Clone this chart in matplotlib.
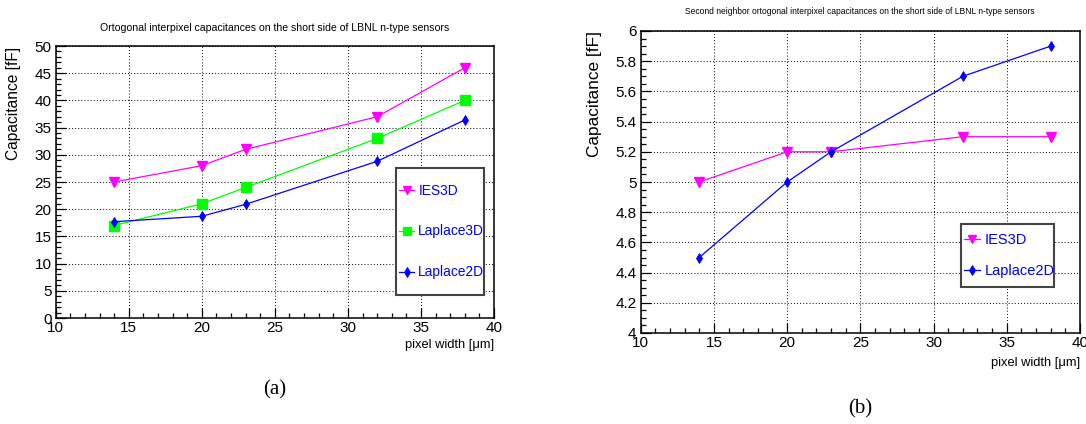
import matplotlib
matplotlib.use("Agg")
import matplotlib.pyplot as plt
from matplotlib.patches import Rectangle
from matplotlib.ticker import MultipleLocator, FuncFormatter

# ---------------- data ----------------
pixel_width = [14, 20, 23, 32, 38]

a_ies3d = [25.0, 28.0, 31.0, 37.0, 46.0]
a_laplace3d = [17.0, 21.0, 24.0, 33.0, 40.0]
a_laplace2d = [17.7, 18.7, 20.9, 28.8, 36.4]

b_ies3d = [5.0, 5.2, 5.2, 5.3, 5.3]
b_laplace2d = [4.5, 5.0, 5.2, 5.7, 5.9]

title_a = "Ortogonal interpixel capacitances on the short side of LBNL n-type sensors"
title_b = "Second neighbor ortogonal interpixel capacitances on the short side of LBNL n-type sensors"
ylabel = "Capacitance [fF]"
xlabel = "pixel width [\u03bcm]"

MAGENTA = "#ff00ff"
GREEN = "#00ff00"
BLUE = "#0000ff"

W, H = 1086, 424
plt.rcParams['font.family'] = ['Liberation Sans', 'DejaVu Sans']
fig = plt.figure(figsize=(W / 100, H / 100), dpi=100)


def px_axes(x0, y0, x1, y1):
    return fig.add_axes([x0 / W, 1 - y1 / H, (x1 - x0) / W, (y1 - y0) / H])


def fmt_num(v, pos):
    return ("%.2f" % v).rstrip('0').rstrip('.')


def style_axes(ax, ymaj, ymin):
    ax.set_xlim(10, 40)
    ax.xaxis.set_major_locator(MultipleLocator(5))
    ax.xaxis.set_minor_locator(MultipleLocator(1))
    ax.yaxis.set_major_locator(MultipleLocator(ymaj))
    ax.yaxis.set_minor_locator(MultipleLocator(ymin))
    ax.yaxis.set_major_formatter(FuncFormatter(fmt_num))
    ax.tick_params(which='both', direction='in', top=False, right=False,
                   labelsize=11, colors='black', width=0.9)
    ax.tick_params(which='major', length=7)
    ax.tick_params(which='minor', length=3.5)
    ax.tick_params(axis='x', pad=2)
    ax.tick_params(axis='y', pad=3)
    ax.grid(True, which='major', color='black', linestyle=(0, (1, 2.2)), linewidth=0.7)
    for s in ax.spines.values():
        s.set_linewidth(1.1)
        s.set_color('black')
    ax.set_axisbelow(True)


line_kw = dict(linewidth=0.9)

# ---------------- panel (a) ----------------
axa = px_axes(55.7, 46, 494, 318)
axa.set_ylim(0, 50)
style_axes(axa, 5, 1)
axa.plot(pixel_width, a_ies3d, color=MAGENTA, marker='v', markersize=6.5, label='IES3D', **line_kw)
axa.plot(pixel_width, a_laplace3d, color=GREEN, marker='s', markersize=6.5, label='Laplace3D', **line_kw)
axa.plot(pixel_width, a_laplace2d, color=BLUE, marker='d', markersize=5.5, markeredgewidth=0.6,
         label='Laplace2D', **line_kw)

# ---------------- panel (b) ----------------
axb = px_axes(640.7, 31, 1080, 333)
axb.set_ylim(4, 6)
style_axes(axb, 0.2, 0.05)
axb.plot(pixel_width, b_ies3d, color=MAGENTA, marker='v', markersize=6.5, label='IES3D', **line_kw)
axb.plot(pixel_width, b_laplace2d, color=BLUE, marker='d', markersize=5.5, markeredgewidth=0.6,
         label='Laplace2D', **line_kw)

# ---------------- legends ----------------
def make_legend(ax, x0, y0, x1, y1, spacing, fs):
    box = Rectangle((x0 / W, 1 - y1 / H), (x1 - x0) / W, (y1 - y0) / H,
                    transform=fig.transFigure, facecolor='white',
                    edgecolor='#444444', linewidth=1.5, zorder=5, clip_on=False)
    ax.add_patch(box)
    leg = ax.legend(loc='center left',
                    bbox_to_anchor=((x0 + 3) / W, 1 - (y0 + y1) / 2 / H),
                    bbox_transform=fig.transFigure,
                    fontsize=fs, labelcolor=BLUE, frameon=False,
                    handlelength=1.1, handletextpad=0.3, labelspacing=spacing,
                    borderpad=0, borderaxespad=0, markerscale=0.85)
    leg.set_zorder(6)
    return leg

make_legend(axa, 396, 168, 484, 295, 1.95, 9.9)
make_legend(axb, 961, 224, 1054, 287, 1.2, 10.5)

# ---------------- texts ----------------
texts = []
def add_text(x, y, s, target_w=None, **kw):
    t = fig.text(x / W, 1 - y / H, s, **kw)
    texts.append((t, target_w))
    return t

add_text(275, 28, title_a, 350, ha='center', va='center', fontsize=7)
add_text(860, 12, title_b, 349, ha='center', va='center', fontsize=6.5)
add_text(14, 47, ylabel, 113, ha='center', va='top', rotation=90, fontsize=11)
add_text(595, 31, ylabel, 126, ha='center', va='top', rotation=90, fontsize=12.5)
add_text(494, 345, xlabel, 90, ha='right', va='center', fontsize=9.5)
add_text(1080, 363, xlabel, 90, ha='right', va='center', fontsize=9.5)
add_text(275, 390, "(a)", None, ha='center', va='center', fontsize=15,
         family=['Liberation Serif', 'DejaVu Serif'])
add_text(860, 409, "(b)", None, ha='center', va='center', fontsize=15,
         family=['Liberation Serif', 'DejaVu Serif'])

# fit text sizes to measured widths
fig.canvas.draw()
r = fig.canvas.get_renderer()
for t, tw in texts:
    if tw is None:
        continue
    bb = t.get_window_extent(r)
    cur = bb.height if t.get_rotation() == 90 else bb.width
    t.set_fontsize(t.get_fontsize() * tw / cur)

fig.savefig("out.png", dpi=100, facecolor='white')
